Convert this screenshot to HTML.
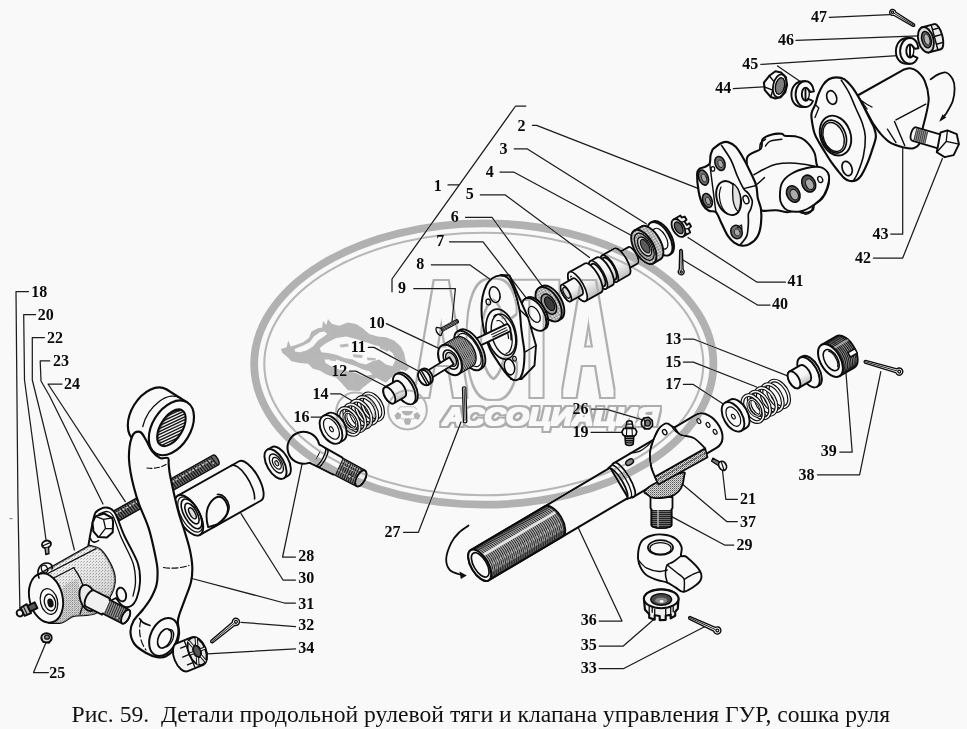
<!DOCTYPE html>
<html lang="ru"><head><meta charset="utf-8"><title>Рис. 59</title>
<style>
html,body{margin:0;padding:0;background:#f9f9f9;}
body{width:967px;height:729px;overflow:hidden;position:relative;font-family:"Liberation Serif",serif;}
svg{position:absolute;left:0;top:0;display:block}
.cap{position:absolute;left:71.6px;top:700.7px;font-size:23.62px;line-height:26px;white-space:pre;color:#111;margin:0;letter-spacing:0px}
.lb{font:bold 16px "Liberation Serif",serif;fill:#0a0a0a}
.ld{fill:none;stroke:#1c1c1c;stroke-width:1.25;stroke-linejoin:round;stroke-linecap:round}
.o{fill:#f9f9f9;stroke:#0c0c0c;stroke-width:1.9;stroke-linejoin:round;stroke-linecap:round}
.l{fill:none;stroke:#0c0c0c;stroke-width:1.62;stroke-linejoin:round;stroke-linecap:round}
.t{fill:none;stroke:#0c0c0c;stroke-width:0.8;stroke-linecap:round}
.k{fill:#111;stroke:none}
</style></head><body>
<svg width="967" height="729" viewBox="0 0 967 729">
<defs>
<linearGradient id="gcyl" x1="0" y1="0" x2="0" y2="1"><stop offset="0" stop-color="#fff"/><stop offset="0.6" stop-color="#e8e8e8"/><stop offset="1" stop-color="#9a9a9a"/></linearGradient>
<pattern id="dots" width="2" height="2" patternUnits="userSpaceOnUse"><rect width="2" height="2" fill="#f4f4f4"/><rect width="1" height="1" fill="#666"/><rect x="1" y="1" width="1" height="1" fill="#888"/></pattern>
<pattern id="dotsL" width="3" height="3" patternUnits="userSpaceOnUse"><rect width="3" height="3" fill="#f6f6f6"/><rect width="1" height="1" fill="#777"/><rect x="2" y="1" width="1" height="1" fill="#aaa"/></pattern>
<linearGradient id="hs" x1="0" y1="0" x2="0.6" y2="1"><stop offset="0" stop-color="#f9f9f9"/><stop offset="0.35" stop-color="#e6e6e6"/><stop offset="1" stop-color="#9c9c9c"/></linearGradient>
<linearGradient id="gcylA" gradientUnits="objectBoundingBox" x1="0" y1="0" x2="0" y2="1"><stop offset="0" stop-color="#f9f9f9"/><stop offset="0.55" stop-color="#f4f4f4"/><stop offset="1" stop-color="#bdbdbd"/></linearGradient>
<pattern id="dots2" width="2" height="2" patternUnits="userSpaceOnUse"><rect width="2" height="2" fill="#d8d8d8"/><rect width="1" height="1" fill="#555"/><rect x="1" y="1" width="1" height="1" fill="#999"/></pattern>
</defs>
<rect width="967" height="729" fill="#f9f9f9"/>
<g class="ld">
<polyline points="28.5,291.5 16.0,291.5 17.9,500.0 19.9,609.0"/>
<polyline points="35.6,314.7 23.7,314.7 24.5,380.0 46.0,540.0"/>
<polyline points="44.4,337.5 32.3,337.5 32.3,380.0 74.4,550.0"/>
<polyline points="49.7,360.9 40.2,360.9 41.0,381.0 49.6,396.0 103.0,504.0"/>
<polyline points="62.0,384.0 48.0,384.0 125.3,501.6"/>
<polyline points="48.4,672.5 33.5,672.5 45.9,642.7"/>
<polyline points="295.5,557.0 282.6,557.0 302.0,464.4"/>
<polyline points="295.5,580.0 283.0,580.0 241.0,513.6"/>
<polyline points="295.5,603.0 284.4,603.0 190.0,578.0"/>
<polyline points="295.5,626.6 241.0,622.3"/>
<polyline points="295.5,648.9 207.4,653.8"/>
<polyline points="403.5,532.3 418.4,532.3 461.0,422.0"/>
<polyline points="525.8,106.0 515.6,106.0 392.0,279.0 392.0,291.8"/>
<polyline points="448.0,184.9 458.8,184.9"/>
<polyline points="532.5,125.4 536.6,125.4 698.0,188.4"/>
<polyline points="514.2,148.8 527.0,148.8 646.5,224.0"/>
<polyline points="500.0,172.0 513.6,172.0 631.5,235.5"/>
<polyline points="480.3,194.8 505.0,194.8 589.5,257.5"/>
<polyline points="465.5,217.3 492.0,217.3 543.3,287.7"/>
<polyline points="449.5,241.8 483.0,241.8 526.0,297.6"/>
<polyline points="431.3,264.8 469.7,264.8 491.0,280.0"/>
<polyline points="413.7,288.6 455.4,288.6 452.0,321.6"/>
<polyline points="386.4,323.6 439.8,348.9"/>
<polyline points="368.3,347.4 374.0,347.4 418.7,371.2"/>
<polyline points="349.3,371.1 355.9,371.1 389.0,388.0"/>
<polyline points="330.6,393.8 340.2,393.8 354.2,402.0"/>
<polyline points="311.2,417.2 322.8,417.2"/>
<polyline points="683.4,339.0 693.3,339.0 787.6,375.8"/>
<polyline points="683.4,362.1 693.3,362.1 756.6,387.0"/>
<polyline points="683.4,384.4 693.3,384.4 725.6,405.5"/>
<polyline points="591.0,409.2 605.9,409.2 644.4,420.3"/>
<polyline points="591.0,432.3 622.0,432.3"/>
<polyline points="737.4,499.3 725.8,499.3 722.5,470.7"/>
<polyline points="737.4,521.6 726.7,521.6 682.8,484.4"/>
<polyline points="733.7,545.2 725.0,545.2 671.7,516.6"/>
<polyline points="599.2,621.0 622.0,621.0 578.6,528.5"/>
<polyline points="599.2,646.0 623.3,646.0 654.3,619.0"/>
<polyline points="599.2,668.7 623.3,668.7 705.0,626.5"/>
<polyline points="839.8,452.0 852.2,452.0 846.0,373.3"/>
<polyline points="817.4,474.8 859.6,474.8 880.8,371.7"/>
<polyline points="770.0,305.0 757.5,305.0 683.0,260.0"/>
<polyline points="785.5,282.0 756.7,282.0 688.0,237.5"/>
<polyline points="873.4,258.0 902.7,258.0 942.4,158.5"/>
<polyline points="890.8,234.2 902.7,234.2 902.7,147.4"/>
<polyline points="733.3,88.6 763.4,86.8"/>
<polyline points="760.9,64.4 897.5,55.7"/>
<polyline points="777.5,65.9 801.0,82.0"/>
<polyline points="796.0,40.4 919.0,35.8"/>
<polyline points="829.3,17.4 889.9,14.6"/>
</g>
<g id="left">
<rect x="9.5" y="518" width="3" height="1.2" fill="#8a8a8a"/>
<g transform="translate(112,518.3) rotate(-29.35)">
<path d="M0,-5.6 L118.7,-5.6 A2.6,5.6 0 0 1 118.7,5.6 L0,5.6 Z" fill="#6a6a6a" stroke="#0c0c0c" stroke-width="1.4"/>
<path d="M2,-5 L3.5,5M4.6,-5 L6.1,5M7.2,-5 L8.7,5M9.8,-5 L11.3,5M12.4,-5 L13.9,5M15,-5 L16.5,5M17.6,-5 L19.1,5M20.2,-5 L21.7,5M22.8,-5 L24.3,5M25.4,-5 L26.9,5M28,-5 L29.5,5M30.6,-5 L32.1,5M33.2,-5 L34.7,5M35.8,-5 L37.3,5M38.4,-5 L39.9,5M41,-5 L42.5,5M43.6,-5 L45.1,5M46.2,-5 L47.7,5M48.8,-5 L50.3,5M51.4,-5 L52.9,5M54,-5 L55.5,5M56.6,-5 L58.1,5M59.2,-5 L60.7,5M61.8,-5 L63.3,5M64.4,-5 L65.9,5M67,-5 L68.5,5M69.6,-5 L71.1,5M72.2,-5 L73.7,5M74.8,-5 L76.3,5M77.4,-5 L78.9,5M80,-5 L81.5,5M82.6,-5 L84.1,5M85.2,-5 L86.7,5M87.8,-5 L89.3,5M90.4,-5 L91.9,5M93,-5 L94.5,5M95.6,-5 L97.1,5M98.2,-5 L99.7,5M100.8,-5 L102.3,5M103.4,-5 L104.9,5M106,-5 L107.5,5M108.6,-5 L110.1,5M111.2,-5 L112.7,5M113.8,-5 L115.3,5M116.4,-5 L117.9,5" stroke="#111" stroke-width="1.1" fill="none"/>
<path d="M2,-2.2 L115.7,-2.2" stroke="#c8c8c8" stroke-width="1.6" stroke-dasharray="2.2 1.6" fill="none"/>
<circle cx="115.2" cy="1.5" r="1.2" fill="#f4f4f4" stroke="#111" stroke-width="0.6"/>
</g>
<g transform="translate(188.9,515.3) rotate(-29.35)">
<path class="o" d="M0,-22.5 L70.2,-22.5 A9,22.5 0 0 1 70.2,22.5 L0,22.5 Z"/>
<path class="l" d="M61.2,-22.5 A8,21.5 0 0 1 65.2,18"/>
<ellipse cx="0" cy="0" rx="10.5" ry="22.5" class="o"/>
<ellipse cx="1.5" cy="0" rx="9" ry="19.5" class="l" style="stroke-width:1.20"/>
<ellipse cx="3" cy="0" rx="7.4" ry="16.5" class="l"/>
<ellipse cx="3.5" cy="0" rx="5" ry="11.5" class="l"/>
<ellipse cx="4" cy="0" rx="2.6" ry="6.2" fill="#ddd" stroke="#0c0c0c" stroke-width="1.4"/>
<g transform="translate(-10,5.8)"><path class="o" d="M21,14 C24,2 30,-6 40,-8 C48,-9 50,-2 48,6 C46,12 40,15 30,16 Z"/>
<path class="l" d="M24,16.5 C34,17.5 45,14 49.5,6 C52,-1 50,-8 45,-10"/></g>
</g>
<path d="M92.6,522.6C93.2,520.8 93.8,514.5 96,512C98.2,509.5 102.9,507.4 106,507.5C109.1,507.6 111.7,507.9 114.7,512.5C117.7,517.1 120.2,526.6 124,535C127.8,543.4 135,555.2 137.7,563C140.4,570.8 140.2,576.2 140,582C139.8,587.8 138.3,594 136.8,598C135.3,602 133.3,604.7 131,606C128.7,607.3 125.5,607.3 123,606C120.5,604.7 117.2,599.3 116,598 L108,602 L100,598 L86,560 L90,536 Z" class="o" />
<path d="M99,514C100.3,513.6 104.7,511.2 107,511.5C109.3,511.8 110.7,511.8 113,516C115.3,520.2 117.7,529.2 121,537C124.3,544.8 130.6,555.5 133,563C135.4,570.5 135.5,576.5 135.5,582C135.5,587.5 133.4,593.7 133,596" class="l" style="stroke-width:1.32"/>
<ellipse cx="121.4" cy="594.5" rx="4.6" ry="7" class="o" transform="rotate(-15 121.4 594.5)" />
<path d="M95.4,516.4 L104,513.5 L112.2,517.9 L113.1,521.7 L112.7,532.3 L106.9,537.6 L98.3,537.1 L93.4,531.3 L92.5,522.7Z" class="o" style="stroke-width:2.04;stroke-linejoin:round"/>
<path d="M95.4,516.4 L103.5,519.3 L105.5,528.4 L99.2,536.6M103.5,519.3 L112.2,517.9M105.5,528.4 L112.7,528.6" class="l" style="stroke-width:1.32"/>
<path d="M90.5,538.5 C91,542 95,543.5 98.5,540.5" class="l" />
<path d="M38.8,574.5 L89.7,545.7L89.7,545.7C91.5,546.3 96.9,546.6 100.3,549.5C103.7,552.4 107.5,558.5 109.9,563C112.3,567.5 114.1,572.2 114.7,576.4C115.3,580.6 114.8,584.1 113.7,588C112.6,591.9 110.3,596.3 108,600C105.7,603.7 102.2,607.8 100,610C97.8,612.2 96.7,612.7 94.5,613.5C92.3,614.3 90.3,614.6 86.8,615C83.3,615.4 77.6,614.8 73.4,616C69.2,617.2 66.1,621.4 61.9,622.5C57.7,623.6 50.6,622.8 48.4,622.8Z" class="o" style="fill:url(#hs);stroke-width:2.04"/>
<path d="M38.8,574.5 L89.7,545.7L89.7,545.7C91.5,546.3 96.9,546.6 100.3,549.5C103.7,552.4 107.5,558.5 109.9,563C112.3,567.5 114.1,572.2 114.7,576.4C115.3,580.6 114.8,584.1 113.7,588C112.6,591.9 110.3,596.3 108,600C105.7,603.7 102.2,607.8 100,610C97.8,612.2 96.7,612.7 94.5,613.5C92.3,614.3 90.3,614.6 86.8,615C83.3,615.4 77.6,614.8 73.4,616C69.2,617.2 66.1,621.4 61.9,622.5C57.7,623.6 50.6,622.8 48.4,622.8Z" class="l" style="fill:url(#dotsL);stroke:none;opacity:0.55"/>
<path d="M63,588C65.2,583.7 73.2,579.7 76,580C78.8,580.3 79,586.2 80,590C81,593.8 79.3,599.8 82,603C84.7,606.2 92,610.5 96,609C100,607.5 103.7,595.5 106,594C108.3,592.5 111,597.3 110,600C109,602.7 102.6,607.8 100,610C97.4,612.2 96.7,612.7 94.5,613.5C92.3,614.3 90.3,614.6 86.8,615C83.3,615.4 77.6,614.8 73.4,616C69.2,617.2 64.8,621.8 61.9,622.5C59,623.2 55.8,622.8 56,620C56.2,617.2 61.8,611.3 63,606C64.2,600.7 60.8,592.3 63,588Z" class="l" style="fill:url(#dots2);stroke:none;opacity:0.5"/>
<path d="M40,577.5 L96,548.6" class="l" style="stroke-width:1.20"/>
<path d="M46,582 L74,567.5" class="l" style="stroke-width:1.20"/>
<ellipse cx="46" cy="598" rx="16.5" ry="25" class="o" transform="rotate(-14 46 598)" />
<ellipse cx="49" cy="601.5" rx="8.5" ry="13" class="l" transform="rotate(-14 49 601.5)" style="stroke-width:1.32"/>
<ellipse cx="50" cy="602.5" rx="5.5" ry="8.5" class="l" transform="rotate(-14 50 602.5)" style="stroke-width:1.32"/>
<ellipse cx="50.5" cy="603" rx="3" ry="4.6" class="k" transform="rotate(-14 50.5 603)" />
<path d="M39,578 C36,570 40,563 47,563 C52,563 53,567 52,569" class="l" />
<ellipse cx="44.5" cy="569" rx="3" ry="4" class="l" transform="rotate(-20 44.5 569)" style="stroke-width:1.20"/>
<path d="M74,568C75,569.7 78.3,574.3 80,578C81.7,581.7 83.5,585.7 84,590C84.5,594.3 83.7,600 83,604C82.3,608 80.5,612.3 80,614" class="l" style="stroke-width:1.32"/>
<ellipse cx="88" cy="598" rx="8" ry="13.5" class="o" transform="rotate(-18 88 598)" style="fill:#e9e9e9"/>
<g transform="translate(90,598.5) rotate(27)">
<path class="o" style="fill:#f0f0f0" d="M0,-9 L18,-9 L18,-7.6 L40,-7.6 A3.4,7.6 0 0 1 40,7.6 L18,7.6 L18,9 L0,9 A4,9 0 0 1 0,-9Z"/>
<path d="M19,-7 L39,-7 L39,7 L19,7Z" fill="#777" opacity="0.75"/>
<path d="M19,-7 L20,7M21.2,-7 L22.2,7M23.4,-7 L24.4,7M25.6,-7 L26.6,7M27.8,-7 L28.8,7M30,-7 L31,7M32.2,-7 L33.2,7M34.4,-7 L35.4,7M36.6,-7 L37.6,7M38.8,-7 L39.8,7" stroke="#222" stroke-width="0.9" fill="none"/>
<ellipse cx="40" cy="0" rx="3.4" ry="7.6" class="o" style="fill:#ededed"/>
<circle cx="33" cy="5" r="1.3" fill="#eee" stroke="#111" stroke-width="0.7"/>
</g>
<g transform="translate(19,613.5) rotate(-26)">
<ellipse cx="1" cy="0" rx="3.2" ry="3.4" class="o"/>
<path class="o" style="fill:#bbb" d="M4,-4.5 L11,-5 L11,5 L4,4.5Z"/>
<path class="o" style="fill:#555" d="M11,-3.2 L19,-3.2 L19,3.2 L11,3.2Z"/>
<path class="l" d="M7,-4.6 L7,4.6" style="stroke-width:1.08"/>
</g>
<ellipse cx="46.5" cy="544.3" rx="4.6" ry="3.6" class="o" transform="rotate(-20 46.5 544.3)" />
<path d="M43,545.8 L50,542.6" class="l" style="stroke-width:1.20"/>
<path d="M45,548 L45.8,554.5 L49,553.5 L48.6,547.5" class="o" style="fill:#999;stroke-width:1.32"/>
<ellipse cx="46.5" cy="637.8" rx="5.2" ry="4.6" class="o" style="fill:#ddd"/>
<ellipse cx="47" cy="637.2" rx="2.4" ry="2" class="o" style="fill:#888;stroke-width:1.20"/>
<path d="M41.5,638 L43,642 L49,643 L51.6,639.5" class="l" style="stroke-width:1.32"/>
<g transform="rotate(31.8 171.4 427.8)">
<ellipse cx="146.7" cy="427.8" rx="19" ry="30" class="o" style="stroke-width:2.16"/>
<rect x="146.7" y="397.8" width="24.7" height="60" fill="#f9f9f9"/>
<path class="l" style="stroke-width:2.16" d="M146.7,397.8 L171.4,397.8"/>
</g>
<path d="M168,458C169.4,459.1 168.3,461.2 168.7,464.4C169.1,467.6 168.8,469.3 170.4,477C172,484.7 175.8,501.9 178,510.4C180.2,518.9 181.6,521.5 183.6,528C185.6,534.5 188.4,543.1 189.8,549.6C191.2,556.1 192.1,561.6 192.3,567C192.5,572.4 192.2,576.5 191,581.9C189.8,587.3 186.8,593.9 184.9,599.3C183,604.6 180.7,610.2 179.5,614C178.3,617.8 177.9,618.7 177.8,622C177.7,625.3 179.5,629.7 179,634C178.5,638.3 177.2,644.3 175,648C172.8,651.7 168.9,654.8 166,656.3C163.1,657.8 160.7,657.8 157.3,657.2C153.9,656.6 149.5,654.9 145.7,652.7C141.9,650.5 137,647.4 134.5,644C132,640.6 130.7,636.3 130.5,632.5C130.3,628.7 131.4,624.8 133.5,621C135.6,617.2 140.1,613.3 143,609.5C145.9,605.7 148.8,602.1 151,598C153.2,593.9 155.4,589.7 156.5,585C157.6,580.3 157.7,574.9 157.5,570C157.3,565.1 156.7,562.6 155.3,555.7C153.9,548.9 151.6,537.5 148.9,528.9C146.2,520.3 141.5,510.9 139,504C136.5,497.1 135.4,493 134,487.7C132.6,482.4 131.3,476.7 130.5,472C129.7,467.3 129.2,463.6 129,459.4C128.8,455.2 129.1,450.6 129.5,447C129.9,443.4 130.8,440.1 131.7,437.7C132.6,435.3 133.4,433.4 135,432.5C136.6,431.6 139.2,431.2 141,432.5C142.8,433.8 144.2,436.9 146,440C147.8,443.1 149.7,448 152,451C154.3,454 157.3,456.8 160,458C162.7,459.2 166.6,456.9 168,458Z" class="o" style="stroke-width:2.16"/>
<g transform="rotate(31.8 171.4 427.8)">
<path class="l" style="stroke-width:1.32" d="M163.4,397.8 A19,30 0 0 0 146.4,441.8"/>
<ellipse cx="171.4" cy="427.8" rx="19" ry="30" class="o" style="stroke-width:2.16"/>
<clipPath id="ringhole"><ellipse cx="171.4" cy="427.8" rx="11" ry="20.5"/></clipPath>
<ellipse cx="171.4" cy="427.8" rx="11" ry="20.5" fill="#f1f1f1" stroke="none"/>
<g clip-path="url(#ringhole)"><path d="M136.5,433.6 L162.8,393.5M138.8,435.1 L165,395M141,436.6 L167.3,396.4M143.3,438.1 L169.6,397.9M145.5,439.6 L171.8,399.4M147.8,441 L174.1,400.9M150.1,442.5 L176.3,402.4M152.3,444 L178.6,403.8M154.6,445.5 L180.9,405.3M156.8,447 L183.1,406.8M159.1,448.4 L185.4,408.3M161.4,449.9 L187.6,409.7M163.6,451.4 L189.9,411.2M165.9,452.9 L192.2,412.7M168.1,454.3 L194.4,414.2M170.4,455.8 L196.7,415.7M172.7,457.3 L198.9,417.1M174.9,458.8 L201.2,418.6M177.2,460.3 L203.5,420.1M179.4,461.7 L205.7,421.6" stroke="#111" stroke-width="1.35" fill="none"/><path d="M171.4,407.3 A11,20.5 0 0 0 171.4,448.3 L169.4,444.8 A7,17 0 0 1 169.4,410.8 Z" fill="#222" opacity="0.55"/></g>
<ellipse cx="171.4" cy="427.8" rx="11" ry="20.5" class="l" style="stroke-width:2.04"/>
</g>
<path d="M147,468 C153,469 160,468 166,464.5" class="l" style="stroke-width:1.20;stroke-dasharray:5 2.5"/>
<path d="M163.5,567.5 C172,569 181,568 189,565.5" class="l" style="stroke-width:1.20;stroke-dasharray:6 2.5"/>
<path d="M139.5,618.5C140.1,619.2 141.2,621.3 143,622.5C144.8,623.7 148.8,625 150,625.5" class="l" />
<ellipse cx="163.8" cy="637" rx="13.2" ry="20" class="o" transform="rotate(25 163.8 637)" style="stroke-width:2.04"/>
<ellipse cx="164.6" cy="638.4" rx="6.2" ry="10.2" class="o" transform="rotate(25 164.6 638.4)" style="stroke-width:1.68"/>
<path d="M168.5,630 A5,9 25 0 1 166.5,647" class="l" style="stroke-width:1.20"/>
<path d="M141,620 C138,630 140,642 146,650" class="l" style="stroke-width:1.20;stroke-dasharray:7 3"/>
<g transform="translate(191.5,653.5) rotate(-22)">
<path class="o" style="fill:#f3f3f3;stroke-width:1.92" d="M-10,-15 L6,-15 A9,15 0 0 1 6,15 L-10,15 A8,15 0 0 1 -10,-15Z"/>
<ellipse cx="6" cy="0" rx="8.5" ry="14.5" class="o" style="fill:#e6e6e6"/>
<ellipse cx="6" cy="0" rx="3.6" ry="6.2" class="o" style="fill:#555"/>
<path d="M8,-5.9 L10.2,-12.6" stroke="#0c0c0c" stroke-width="3.2" fill="none"/>
<path d="M8,-5.9 L10.2,-12.6" stroke="#f2f2f2" stroke-width="1.3" fill="none"/>
<path d="M10,0 L14.5,0" stroke="#0c0c0c" stroke-width="3.2" fill="none"/>
<path d="M10,0 L14.5,0" stroke="#f2f2f2" stroke-width="1.3" fill="none"/>
<path d="M8,5.9 L10.2,12.6" stroke="#0c0c0c" stroke-width="3.2" fill="none"/>
<path d="M8,5.9 L10.2,12.6" stroke="#f2f2f2" stroke-width="1.3" fill="none"/>
<path d="M4,5.9 L1.8,12.6" stroke="#0c0c0c" stroke-width="3.2" fill="none"/>
<path d="M4,5.9 L1.8,12.6" stroke="#f2f2f2" stroke-width="1.3" fill="none"/>
<path d="M2,0 L-2.5,0" stroke="#0c0c0c" stroke-width="3.2" fill="none"/>
<path d="M2,0 L-2.5,0" stroke="#f2f2f2" stroke-width="1.3" fill="none"/>
<path d="M4,-5.9 L1.7,-12.6" stroke="#0c0c0c" stroke-width="3.2" fill="none"/>
<path d="M4,-5.9 L1.7,-12.6" stroke="#f2f2f2" stroke-width="1.3" fill="none"/>
<path class="l" style="stroke-width:1.32" d="M-8,-9 L-2,-9 M-9.5,0 L-2.5,0 M-8,9 L-2,9 M-2,-14 L-2,14"/>
</g>
<g transform="translate(236,621.8) rotate(140.6)">
<path class="o" style="stroke-width:1.38" d="M31.3,-1.4 L3.1,-2 A3.6,3.6 0 1 0 3.1,2 L31.3,1.4 Q33.5,0 31.3,-1.4 Z"/>
<circle r="1.4" class="o" style="stroke-width:1.20"/>
<path class="l" style="stroke-width:0.84" d="M2.2,0 L31.3,0"/>
</g>
</g>
<g id="center">
<g transform="translate(681,226.5) rotate(-30)">
<path class="o" style="fill:#f1f1f1;stroke-width:1.80" d="M-3,-9.8 L5,-9.8 L5,-7.4 L8.2,-6.8 L8.2,-3 L5.6,-2.6 L5.8,1.6 L8.8,1.4 L8.8,5 L5.4,5.6 L5,9.8 L-3,9.8Z"/>
<path class="l" style="stroke-width:1.20" d="M1,-9.6 L1,9.6 M1,-4 L5.6,-2.6 M1,3.6 L5.4,5.6"/>
<ellipse cx="-3" rx="5.6" ry="9.8" class="o" style="fill:#e4e4e4;stroke-width:1.80"/>
<ellipse cx="-2.6" rx="3.5" ry="6.4" class="o" style="fill:#5e5e5e;stroke-width:1.32"/>
</g>
<g transform="translate(681.2,272) rotate(-90.5)">
<path class="o" style="stroke-width:1.38" d="M21.5,-1.3 L2.5,-1.9 A3,3 0 1 0 2.5,1.9 L21.5,1.3 Q23.7,0 21.5,-1.3 Z"/>
<circle r="1.1" class="o" style="stroke-width:1.20"/>
<path class="l" style="stroke-width:0.84" d="M1.8,0 L21.5,0"/>
</g>
<g transform="translate(660,238.8) rotate(-30)">
<path class="o" style="fill:#f9f9f9;stroke-width:1.92" d="M0,-18.6 L1.8,-18.6 A9.6,18.6 0 0 1 1.8,18.6 L0,18.6 Z"/>
<ellipse cx="0" cy="0" rx="9.6" ry="18.6" class="o" style="fill:#f9f9f9;stroke-width:1.92"/>
<ellipse cx="0.3" cy="0" rx="5.8" ry="11.5" fill="#f9f9f9" stroke="#0c0c0c" stroke-width="1.2"/>
</g>
<g transform="translate(643.8,247) rotate(-30)">
<path class="o" style="fill:url(#dots);stroke-width:1.92" d="M0,-19 L8,-19 A9.6,19 0 0 1 8,19 L0,19 Z"/>
<ellipse cx="0" cy="0" rx="9.6" ry="19" class="o" style="fill:url(#dots);stroke-width:1.92"/>
<ellipse cx="0.5" cy="0" rx="7.6" ry="15" fill="url(#dots2)" stroke="#0c0c0c" stroke-width="1.2"/>
<ellipse cx="1" cy="0" rx="5.5" ry="10.5" fill="#dcdcdc" stroke="#0c0c0c" stroke-width="1.3"/>
<ellipse cx="1.6" cy="0" rx="3.6" ry="7.6" fill="#5a5a5a" stroke="#0c0c0c" stroke-width="1.1"/>
</g>
<g transform="translate(566,293.1) rotate(-29.4)">
<path class="o" style="fill:url(#gcylA);stroke-width:1.80" d="M64,-9.4 L77,-9.4 A3.4,9.4 0 0 1 77,9.4 L64,9.4 A3.4,9.4 0 0 1 64,-9.4 Z"/>
<ellipse cx="64" cy="0" rx="3.4" ry="9.4" class="o" style="stroke-width:1.68"/>
<path class="o" style="fill:url(#gcylA);stroke-width:1.80" d="M50,-15.1 L64,-15.1 A5.4,15.1 0 0 1 64,15.1 L50,15.1 A5.4,15.1 0 0 1 50,-15.1 Z"/>
<ellipse cx="50" cy="0" rx="5.4" ry="15.1" class="o" style="stroke-width:1.68"/>
<path class="o" style="fill:url(#gcylA);stroke-width:1.80" d="M44.5,-12.4 L50,-12.4 A4.5,12.4 0 0 1 50,12.4 L44.5,12.4 A4.5,12.4 0 0 1 44.5,-12.4 Z"/>
<ellipse cx="44.5" cy="0" rx="4.5" ry="12.4" class="o" style="stroke-width:1.68"/>
<path class="o" style="fill:url(#gcylA);stroke-width:1.80" d="M37,-15.9 L44.5,-15.9 A5.7,15.9 0 0 1 44.5,15.9 L37,15.9 A5.7,15.9 0 0 1 37,-15.9 Z"/>
<ellipse cx="37" cy="0" rx="5.7" ry="15.9" class="o" style="stroke-width:1.68"/>
<path class="o" style="fill:url(#gcylA);stroke-width:1.80" d="M31,-12.6 L37,-12.6 A4.5,12.6 0 0 1 37,12.6 L31,12.6 A4.5,12.6 0 0 1 31,-12.6 Z"/>
<ellipse cx="31" cy="0" rx="4.5" ry="12.6" class="o" style="stroke-width:1.68"/>
<path class="o" style="fill:url(#gcylA);stroke-width:1.80" d="M13.3,-16.6 L31,-16.6 A6,16.6 0 0 1 31,16.6 L13.3,16.6 A6,16.6 0 0 1 13.3,-16.6 Z"/>
<ellipse cx="13.3" cy="0" rx="6" ry="16.6" class="o" style="stroke-width:1.68"/>
<path class="o" style="fill:url(#gcylA);stroke-width:1.80" d="M0,-9.4 L13.3,-9.4 A3.4,9.4 0 0 1 13.3,9.4 L0,9.4 A3.4,9.4 0 0 1 0,-9.4 Z"/>
<ellipse cx="0" cy="0" rx="3.4" ry="9.4" class="o" style="stroke-width:1.68"/>
<ellipse cx="0.6" cy="0" rx="2.4" ry="6" class="o" style="stroke-width:1.32;fill:#ddd"/>
<circle cx="12.5" cy="-12" r="0.9" class="k"/><circle cx="37.5" cy="-12.5" r="0.9" class="k"/>
</g>
<g transform="translate(548.6,304.3) rotate(-30)">
<path class="o" style="fill:url(#dots);stroke-width:1.92" d="M0,-19 L3,-19 A10.5,19 0 0 1 3,19 L0,19 Z"/>
<ellipse cx="0" cy="0" rx="10.5" ry="19" class="o" style="fill:url(#dots);stroke-width:1.92"/>
<ellipse cx="0.3" cy="0" rx="6.4" ry="11" fill="#9a9a9a" stroke="#0c0c0c" stroke-width="1.4"/>
<ellipse cx="1.2" cy="0" rx="4" ry="7.5" fill="#3a3a3a" stroke="#0c0c0c" stroke-width="1.2"/>
</g>
<g transform="translate(534,314.5) rotate(-30)">
<path class="o" style="fill:#f9f9f9;stroke-width:1.92" d="M0,-18 L2.2,-18 A9.8,18 0 0 1 2.2,18 L0,18 Z"/>
<ellipse cx="0" cy="0" rx="9.8" ry="18" class="o" style="fill:#f9f9f9;stroke-width:1.92"/>
<ellipse cx="0.3" cy="0" rx="4.8" ry="8.8" fill="#f9f9f9" stroke="#0c0c0c" stroke-width="1.3"/>
</g>
<path d="M501,275 L509.5,275.5 L528,317.5 L536,345.5 L534.5,365.5 L521.5,379 L511,379Z" class="o" />
<path d="M519.4,309.4 L528,317.5M524.4,352.3 L536,345.5" class="l" style="stroke-width:1.44"/>
<path d="M499.7,275.5C497.1,275.6 494.2,276.9 492,278.5C489.8,280.1 488.1,281.9 486.5,285C484.9,288.1 483.3,292.9 482.5,297C481.7,301.1 481.5,305.2 481.5,309.4C481.5,313.6 481.9,317.9 482.5,322C483.1,326.1 483.6,329.6 484.8,334.1C486.1,338.6 487.8,344.3 490,349C492.2,353.7 495.5,358.3 498,362.1C500.5,365.9 502.8,369.2 505,372C507.2,374.8 509.4,377.2 511.2,378.6C513,380 514.5,380.5 516,380.3C517.5,380.1 519.2,379.6 520.5,377.5C521.8,375.4 522.9,372.2 523.5,368C524.1,363.8 524.6,357.3 524.4,352.3C524.2,347.3 523.1,342.4 522.5,338C521.9,333.6 521.5,330.7 521,325.9C520.5,321.1 520.5,315.2 519.4,309.4C518.3,303.6 516.4,296.2 514.5,291C512.6,285.8 510.4,280.7 507.9,278.1C505.4,275.5 502.3,275.4 499.7,275.5Z" class="o" style="stroke-width:2.04"/>
<g transform="translate(501.3,334.1) rotate(-14)">
<ellipse rx="14.5" ry="25.5" class="o" style="stroke-width:1.68"/>
<ellipse cx="2" cy="1" rx="11.5" ry="21" class="l" style="stroke-width:1.44"/>
<path class="l" style="stroke-width:1.20" d="M-3,-19 A9,19 0 0 1 8,8 M-1,-14 A7,15 0 0 1 6,6 M0,20 A10,20 0 0 0 10,-2"/>
</g>
<ellipse cx="494.7" cy="294.6" rx="5.2" ry="8" class="o" transform="rotate(-14 494.7 294.6)" style="stroke-width:1.56"/>
<ellipse cx="488.3" cy="302" rx="2.2" ry="3" class="o" transform="rotate(-14 488.3 302)" style="stroke-width:1.32"/>
<ellipse cx="509.5" cy="367" rx="5" ry="8" class="o" transform="rotate(-14 509.5 367)" style="stroke-width:1.56"/>
<ellipse cx="514.5" cy="358.8" rx="1.8" ry="2.4" class="o" transform="rotate(-14 514.5 358.8)" style="stroke-width:1.20"/>
<g transform="translate(470,346) rotate(-25.5)">
<path class="o" d="M0,-4 L42,-4 A2,4 0 0 1 42,4 L0,4Z"/>
<path d="M24,-1 L41,-1 M24,1.6 L41,1.6" stroke="#222" stroke-width="1.2" fill="none"/>
</g>
<g transform="translate(468.5,350.5) rotate(-30)">
<path class="o" style="fill:#f9f9f9;stroke-width:1.92" d="M0,-22 L3,-22 A10.5,22 0 0 1 3,22 L0,22 Z"/>
<ellipse cx="0" cy="0" rx="10.5" ry="22" class="o" style="fill:#f9f9f9;stroke-width:1.92"/>
<ellipse cx="1" cy="0" rx="8.5" ry="18.5" fill="#f9f9f9" stroke="#0c0c0c" stroke-width="1.1"/>
</g>
<g transform="translate(450,360) rotate(-30)">
<path class="o" style="fill:#8a8a8a" d="M0,-16.5 L16,-16.5 A10,16.5 0 0 1 16,16.5 L0,16.5 Z"/>
<clipPath id="kn"><path d="M0,-16.5 L16,-16.5 A10,16.5 0 0 1 16,16.5 L0,16.5 Z"/></clipPath>
<g clip-path="url(#kn)"><path d="M1,-16.5 L4,16.5M2.9,-16.5 L5.9,16.5M4.8,-16.5 L7.8,16.5M6.7,-16.5 L9.7,16.5M8.6,-16.5 L11.6,16.5M10.5,-16.5 L13.5,16.5M12.4,-16.5 L15.4,16.5M14.3,-16.5 L17.3,16.5M16.2,-16.5 L19.2,16.5M18.1,-16.5 L21.1,16.5M20,-16.5 L23,16.5M21.9,-16.5 L24.9,16.5M23.8,-16.5 L26.8,16.5" stroke="#1a1a1a" stroke-width="0.9" fill="none"/><path d="M0,-16.5 L-3,16.5M1.9,-16.5 L-1.1,16.5M3.8,-16.5 L0.8,16.5M5.7,-16.5 L2.7,16.5M7.6,-16.5 L4.6,16.5M9.5,-16.5 L6.5,16.5M11.4,-16.5 L8.4,16.5M13.3,-16.5 L10.3,16.5M15.2,-16.5 L12.2,16.5M17.1,-16.5 L14.1,16.5M19,-16.5 L16,16.5M20.9,-16.5 L17.9,16.5M22.8,-16.5 L19.8,16.5M24.7,-16.5 L21.7,16.5M26.6,-16.5 L23.6,16.5M28.5,-16.5 L25.5,16.5" stroke="#ddd" stroke-width="0.5" fill="none"/></g>
<ellipse rx="10" ry="16.5" class="o" style="stroke-width:2.04"/>
<ellipse cx="0.8" rx="6.3" ry="10.5" class="o" style="stroke-width:1.56"/>
<ellipse cx="1.2" rx="4.6" ry="7.6" class="o" style="fill:#ccc;stroke-width:1.32"/>
</g>
<g transform="translate(426,376.5) rotate(-31.5)">
<path class="o" d="M0,-4.1 L30,-4.1 L30,4.1 L0,4.1Z" style="stroke-width:1.80"/>
</g>
<g transform="translate(424.3,377.5) rotate(-30)">
<path class="o" style="fill:#f9f9f9;stroke-width:1.92" d="M0,-8.4 L2.5,-8.4 A5.6,8.4 0 0 1 2.5,8.4 L0,8.4 Z"/>
<ellipse cx="0" cy="0" rx="5.6" ry="8.4" class="o" style="fill:#f9f9f9;stroke-width:1.92"/>
</g>
<g transform="translate(424.3,377.5) rotate(-30)"><path class="l" style="stroke-width:1.44" d="M-1.2,-8 L-1.2,8 M1,-8 L1,8"/></g>
<g transform="translate(439,331.3) rotate(-29)">
<path d="M2,-1.8 L21,-1.8 A1,1.8 0 0 1 21,1.8 L2,1.8Z" fill="#444" stroke="#111" stroke-width="1"/>
<path d="M3,-1.8 l1,3.6 m1.5,-3.6 l1,3.6 m1.5,-3.6 l1,3.6 m1.5,-3.6 l1,3.6 m1.5,-3.6 l1,3.6 m1.5,-3.6 l1,3.6 m1.5,-3.6 l1,3.6" stroke="#bbb" stroke-width="0.6" fill="none"/>
<path class="o" d="M3,-2 L0,-4.5 A2.3,4.5 0 0 0 0,4.5 L3,2Z" style="stroke-width:1.44"/>
</g>
<g transform="translate(464.2,387.8) rotate(88.5)">
<path class="o" d="M0,-1.7 L34,-1.7 A1,1.7 0 0 1 34,1.7 L0,1.7 A1,1.7 0 0 1 0,-1.7Z" style="stroke-width:1.32"/>
<path class="t" d="M1,0 L33,0"/>
</g>
<g transform="translate(404.3,389) rotate(-30)">
<path class="o" style="fill:#f9f9f9;stroke-width:1.92" d="M0,-17 L2.5,-17 A8.8,17 0 0 1 2.5,17 L0,17 Z"/>
<ellipse cx="0" cy="0" rx="8.8" ry="17" class="o" style="fill:#f9f9f9;stroke-width:1.92"/>
</g>
<g transform="translate(389.3,395.3) rotate(-30)">
<path class="o" style="fill:url(#gcylA)" d="M0,-9.2 L12.5,-9.2 A4.6,9.2 0 0 1 12.5,9.2 L0,9.2 A4.6,9.2 0 0 1 0,-9.2Z"/>
<ellipse cx="0" cy="0" rx="4.6" ry="9.2" class="o"/>
</g>
<g transform="translate(372.5,406.8) rotate(-30)"><ellipse rx="9" ry="14.6" fill="none" stroke="#0c0c0c" stroke-width="3.8"/><ellipse rx="9" ry="14.6" fill="none" stroke="#f6f6f6" stroke-width="1.5999999999999996"/></g>
<g transform="translate(366.6,410.4) rotate(-30)"><ellipse rx="9" ry="14.6" fill="none" stroke="#0c0c0c" stroke-width="3.8"/><ellipse rx="9" ry="14.6" fill="none" stroke="#f6f6f6" stroke-width="1.5999999999999996"/></g>
<g transform="translate(360.8,414.1) rotate(-30)"><ellipse rx="9" ry="14.6" fill="none" stroke="#0c0c0c" stroke-width="3.8"/><ellipse rx="9" ry="14.6" fill="none" stroke="#f6f6f6" stroke-width="1.5999999999999996"/></g>
<g transform="translate(354.9,417.8) rotate(-30)"><ellipse rx="9" ry="14.6" fill="none" stroke="#0c0c0c" stroke-width="3.8"/><ellipse rx="9" ry="14.6" fill="none" stroke="#f6f6f6" stroke-width="1.5999999999999996"/></g>
<g transform="translate(349,421.4) rotate(-30)"><ellipse cx="4" rx="5.4" ry="9.1" fill="none" stroke="#0c0c0c" stroke-width="2.6"/><ellipse cx="4" rx="5.4" ry="9.1" fill="none" stroke="#f6f6f6" stroke-width="0.9"/><ellipse cx="1.5" rx="5.4" ry="9.1" fill="none" stroke="#0c0c0c" stroke-width="2.6"/><ellipse cx="1.5" rx="5.4" ry="9.1" fill="none" stroke="#f6f6f6" stroke-width="0.9"/><ellipse rx="9" ry="14.6" fill="none" stroke="#0c0c0c" stroke-width="3.8"/><ellipse rx="9" ry="14.6" fill="none" stroke="#f6f6f6" stroke-width="1.5999999999999996"/></g>
<g transform="translate(331,429.5) rotate(-30)">
<path class="o" style="fill:#f9f9f9;stroke-width:1.92" d="M0,-15.6 L5,-15.6 A9.6,15.6 0 0 1 5,15.6 L0,15.6 Z"/>
<ellipse cx="0" cy="0" rx="9.6" ry="15.6" class="o" style="fill:#f9f9f9;stroke-width:1.92"/>
<ellipse cx="0.5" cy="0" rx="1.6" ry="2.8" fill="#f9f9f9" stroke="#0c0c0c" stroke-width="1.1"/>
</g>
<g transform="translate(331,429) rotate(-30)"><ellipse cx="0.5" rx="6.4" ry="11.5" class="l" style="stroke-width:1.20"/></g>
<g transform="translate(303.5,447.8) rotate(28)">
<path class="o" d="M10,-10.4 L39,-9.6 L39,-9.2 L65,-8.8 A4.2,8.8 0 0 1 65,8.8 L39,9.2 L39,9.6 L10,10.4 Z"/>
<path d="M40,-8.9 L65,-8.5 A4.2,8.6 0 0 1 65,8.5 L40,8.9 Z" fill="#6c6c6c" opacity="0.85"/>
<path d="M40,-8.6 L41.2,8.6M42.3,-8.6 L43.5,8.6M44.6,-8.6 L45.8,8.6M46.9,-8.6 L48.1,8.6M49.2,-8.6 L50.4,8.6M51.5,-8.6 L52.7,8.6M53.8,-8.6 L55,8.6M56.1,-8.6 L57.3,8.6M58.4,-8.6 L59.6,8.6M60.7,-8.6 L61.9,8.6M63,-8.6 L64.2,8.6" stroke="#151515" stroke-width="1" fill="none"/>
<path d="M41,3.4 L63,3.4 M41,-3 L63,-3 M41,-6.5 L63,-6.5" stroke="#e0e0e0" stroke-width="1" stroke-dasharray="1.5 1.6" fill="none"/>
<ellipse cx="65" cy="0" rx="4.2" ry="8.8" class="o" style="fill:#ececec"/>
<circle cx="54" cy="3.6" r="1.8" fill="#ddd" stroke="#111" stroke-width="0.9"/>
<path class="l" style="stroke-width:1.32" d="M19,-10.1 A3,10.1 0 0 1 19,10.1 M21.6,-10 A3,10 0 0 1 21.6,10"/>
<circle cx="0" cy="0" r="16" class="o" style="stroke-width:2.04"/>
<path class="o" style="stroke:none" d="M9,-9.8 L16,-10.2 L16,10.2 L9,9.8Z"/>
<path class="l" d="M12.4,-10.1 L16,-10.25 M12.4,10.1 L16,10.25" />
</g>
<g transform="translate(275.5,464) rotate(-30)">
<path class="o" style="fill:#f9f9f9;stroke-width:1.92" d="M0,-16.5 L5,-16.5 A8.5,16.5 0 0 1 5,16.5 L0,16.5 Z"/>
<ellipse cx="0" cy="0" rx="8.5" ry="16.5" class="o" style="fill:#f9f9f9;stroke-width:1.92"/>
<ellipse cx="1" cy="0" rx="5.5" ry="10.5" fill="#f9f9f9" stroke="#0c0c0c" stroke-width="1.3"/>
<ellipse cx="1.5" cy="0" rx="3.6" ry="6.5" fill="#f9f9f9" stroke="#0c0c0c" stroke-width="1.2"/>
<ellipse cx="1.5" cy="0" rx="1.6" ry="2.8" fill="#ddd" stroke="#0c0c0c" stroke-width="1"/>
</g>
</g>
<g id="topright">
<path d="M747.2,157.4C749.1,152.6 758.1,151.8 760.7,148.8C763.2,145.8 760.7,141.6 762.6,139.2C764.5,136.8 769,135.3 772.2,134.4C775.4,133.5 779.7,133.6 781.8,133.8C783.9,134.1 782.4,135.3 784.7,135.7C786.9,136.2 791.9,135.6 795.2,136.3C798.6,137.1 801.6,137.4 804.8,140.2C808,142.9 812.4,148.3 814.4,152.6C816.5,157 815.4,163.1 817.3,166.1C819.2,169.1 824,169 826,170.9C827.9,172.8 828.5,174.9 828.8,177.6C829.2,180.3 829,183.7 827.9,187.2C826.8,190.7 824.4,195.9 822.1,198.7C819.9,201.6 816,202.6 814.4,204.5C812.8,206.4 814.4,208.8 812.5,210.3C810.6,211.7 805.5,213.1 802.9,213.1C800.4,213.1 799.7,210.4 797.1,210.3C794.6,210.1 791.1,212.2 787.5,212.2C784,212.2 780.5,210.6 776,210.3C771.5,209.9 764.5,211.9 760.7,210.3C756.8,208.7 754.9,206.1 753,200.7C751.1,195.2 750.1,184.8 749.1,177.6C748.2,170.4 745.3,162.3 747.2,157.4Z" class="o" style="stroke-width:2.04"/>
<path d="M759.7,148.8C759.9,147.8 759.7,144.6 760.7,143C761.6,141.4 764.7,139.8 765.5,139.2M765.5,145.9C766.3,145.1 767.5,142.2 770.3,141.1C773,140 779.9,139.5 781.8,139.2" class="l" style="stroke-width:1.44"/>
<path d="M753.9,174.7C755.7,173.8 760.8,170.7 764.5,169C768.2,167.2 770.9,165.1 776,164.2C781.1,163.2 788.8,162.9 795.2,163.2C801.6,163.5 811.2,165.6 814.4,166.1" class="l" style="stroke-width:1.56"/>
<path d="M746.3,190.1C748,189.1 753.8,186.4 756.8,184.3C759.9,182.3 763.2,178.7 764.5,177.6" class="l" style="stroke-width:1.44"/>
<path d="M779.9,196.8C779.9,193.3 779.9,187.2 781.8,183.4C783.7,179.5 787.2,176.3 791.4,173.8C795.5,171.2 802,169.1 806.8,168C811.6,166.9 816.7,166.3 820.2,167.1C823.7,167.9 826.4,170.4 827.9,172.8C829.3,175.2 829.5,177.8 828.8,181.5C828.2,185.1 826.4,191.1 824,194.9C821.6,198.7 818.3,201.8 814.4,204.5C810.6,207.2 805.5,210.3 801,211.2C796.5,212.2 790.7,211.4 787.5,210.3C784.3,209.1 783.1,206.7 781.8,204.5C780.5,202.3 779.9,200.3 779.9,196.8Z" class="o" style="stroke-width:1.92"/>
<ellipse cx="793.3" cy="194" rx="6.4" ry="8.6" class="o" transform="rotate(-25 793.3 194)" style="fill:#555;stroke-width:1.56"/>
<ellipse cx="794.3" cy="194.6" rx="3.8" ry="5.6" class="o" transform="rotate(-25 794.3 194.6)" style="fill:#aaa;stroke-width:0.96"/>
<ellipse cx="808.7" cy="183.6" rx="6.6" ry="8.8" class="o" transform="rotate(-25 808.7 183.6)" style="fill:#555;stroke-width:1.56"/>
<ellipse cx="809.7" cy="184.2" rx="3.8" ry="5.6" class="o" transform="rotate(-25 809.7 184.2)" style="fill:#aaa;stroke-width:0.96"/>
<ellipse cx="820.2" cy="179.5" rx="2.3" ry="3.2" class="o" transform="rotate(-25 820.2 179.5)" style="stroke-width:1.32"/>
<path d="M802.9,211.2C803.2,211.7 803.6,213.9 804.8,214.1C806.1,214.3 809.3,213.3 810.6,212.2C811.9,211.1 812.2,208.2 812.5,207.4" class="l" style="stroke-width:1.44"/>
<path d="M712.1,150.8C712.6,149.6 712.1,149.7 713.7,148.4C715.2,147.1 719.2,143.9 721.5,142.9C723.9,141.8 725.5,141.4 727.9,142.1C730.2,142.8 733.1,144.1 735.7,146.8C738.4,149.6 741,154.1 743.6,158.7C746.3,163.3 749.4,170 751.5,174.4C753.6,178.9 755.2,181.5 756.2,185.5C757.3,189.4 757,194.1 757.8,198.1C758.6,202 760.5,204.9 761,209.1C761.5,213.3 761.5,218.9 761,223.3C760.5,227.8 759.7,232.5 757.8,235.9C756,239.4 752.6,242.2 749.9,243.8C747.3,245.5 744.7,245.9 742.1,245.7C739.4,245.5 736.5,244.2 734.2,242.6C731.8,240.9 730,239.2 727.9,235.9C725.8,232.7 723.5,227.3 721.5,223.3C719.6,219.4 718.1,214.4 716,212.3C713.9,210.2 711.2,212 708.9,210.7C706.7,209.4 704.3,207.6 702.6,204.4C700.9,201.2 699.6,196.8 698.7,191.8C697.8,186.8 697,178.2 697.1,174.4C697.2,170.6 698,170.2 699.5,168.9C700.9,167.6 704.1,167.5 705.8,166.5C707.5,165.6 708.9,165.2 709.7,163.4C710.5,161.6 710.1,157.6 710.5,155.5C710.9,153.4 711.6,152 712.1,150.8Z" class="o" style="stroke-width:2.16"/>
<path d="M721.5,145.4C723.1,147.9 728.4,155.1 731,160.2C733.6,165.3 735.2,171.3 737.3,176C739.4,180.7 741.8,185.7 743.6,188.6C745.5,191.5 746.9,191.3 748.4,193.4C749.8,195.5 751.9,198.6 752.3,201.2C752.7,203.9 751.4,207 750.7,209.1C750.1,211.2 748.8,211.5 748.4,213.9C748,216.2 748.6,219.6 748.4,223.3C748.1,227 748,232.5 746.8,235.9C745.5,239.4 741.8,242.8 740.8,244.1" class="l" style="stroke-width:1.68"/>
<path d="M743.6,188.6 L756.2,185.5" class="l" style="stroke-width:1.44"/>
<path d="M709.7,163.4C710,165.5 710.6,170.8 711.3,176C712,181.3 712.9,188.9 713.7,194.9C714.4,201 715.6,209.4 716,212.3" class="l" style="stroke-width:1.44"/>
<ellipse cx="728.6" cy="198.1" rx="11.6" ry="17.6" class="o" transform="rotate(-20 728.6 198.1)" style="stroke-width:1.92"/>
<path d="M733,183.5 C740,188 743,200 738.5,212 C736,210 734,206 733,200 C732.5,194 732.5,189 733,183.5Z" class="o" style="fill:#e2e2e2;stroke-width:1.32"/>
<path d="M721,187 C717.5,195 720,208 727,213.5" class="l" style="stroke-width:1.20"/>
<ellipse cx="720" cy="163.4" rx="4.9" ry="7.2" class="o" transform="rotate(-20 720 163.4)" style="fill:#707070;stroke-width:1.56"/>
<ellipse cx="720.6" cy="163.8" rx="2.5" ry="4" class="o" transform="rotate(-20 720.6 163.8)" style="fill:#a9a9a9;stroke-width:0.72"/>
<ellipse cx="703.4" cy="177.6" rx="4.7" ry="7.8" class="o" transform="rotate(-20 703.4 177.6)" style="fill:#707070;stroke-width:1.56"/>
<ellipse cx="704" cy="178" rx="2.4" ry="4.3" class="o" transform="rotate(-20 704 178)" style="fill:#a9a9a9;stroke-width:0.72"/>
<ellipse cx="707.4" cy="200.5" rx="4.6" ry="7.3" class="o" transform="rotate(-20 707.4 200.5)" style="fill:#707070;stroke-width:1.56"/>
<ellipse cx="708" cy="200.9" rx="2.3" ry="4" class="o" transform="rotate(-20 708 200.9)" style="fill:#a9a9a9;stroke-width:0.72"/>
<ellipse cx="736.5" cy="232" rx="5.6" ry="6.8" class="o" transform="rotate(-20 736.5 232)" style="fill:#707070;stroke-width:1.56"/>
<ellipse cx="737.1" cy="232.4" rx="2.8" ry="3.7" class="o" transform="rotate(-20 737.1 232.4)" style="fill:#a9a9a9;stroke-width:0.72"/>
<ellipse cx="712.9" cy="168.9" rx="1.8" ry="2.3" class="o" style="stroke-width:1.20"/>
<ellipse cx="746" cy="199.7" rx="2.7" ry="4.2" class="o" transform="rotate(-20 746 199.7)" style="stroke-width:1.44"/>
<path d="M737.5,227.5 L741.5,225 L742,229" class="l" style="stroke-width:1.20"/>
<path d="M857.6,95.5 L903.7,69.6L903.7,69.6C904.8,69.4 908.1,67.9 910.4,68.3C912.7,68.6 915.1,69.4 917.5,71.5C919.9,73.7 923,76.6 924.8,81.1C926.7,85.6 928.5,92.6 928.7,98.4C928.8,104.2 926.8,110.9 925.8,115.7C924.8,120.5 923.9,122.7 922.9,127.2C922,131.7 921.6,139.1 920,142.6C918.4,146.1 916,147.5 913.3,148.3C910.6,149.1 907.5,148.3 903.7,147.4C899.9,146.4 894.1,144.8 890.3,142.6C886.4,140.3 883.5,137.1 880.7,133.9C877.8,130.7 874.3,125.1 873,123.4Z" class="o" style="stroke-width:2.04"/>
<path d="M896,119.9 L925.8,104.2" class="l" style="stroke-width:1.44"/>
<path d="M894.5,121.5 L904.7,145.5" class="l" style="stroke-width:1.44"/>
<path d="M887.4,129.1 L896,142.6" class="l" style="stroke-width:1.32"/>
<path d="M858.6,98.4C859.7,99.2 863.1,101.8 865.3,103.2C867.5,104.7 870.9,106.4 872,107.1M861.5,101.3 L867.2,109" class="l" style="stroke-width:1.20"/>
<g transform="translate(914,134) rotate(16.5)">
<path class="o" d="M0,-7 L27,-7 L27,7 L0,7 A3,7 0 0 1 0,-7Z" style="stroke-width:1.80"/>
<path d="M1,-6 L13,-6 L13,6 L1,6Z" fill="#777" opacity="0.75"/>
<path d="M1,-6 L1.8,6M2.9,-6 L3.7,6M4.8,-6 L5.6,6M6.7,-6 L7.5,6M8.6,-6 L9.4,6M10.5,-6 L11.3,6M12.4,-6 L13.2,6" stroke="#333" stroke-width="0.8" fill="none"/>
<path class="o" style="stroke-width:1.92" d="M25,-9 L31,-13 L41,-12 L46,-3 L44,9 L36,13.5 L27,11 Z"/>
<path class="l" style="stroke-width:1.32" d="M31,-13 L33,-2 L27,11 M33,-2 L46,-3"/>
</g>
<path d="M836.5,77.3C833.9,77.3 831,77.9 828.8,79.2C826.6,80.5 824.8,82.4 823,85C821.3,87.5 819.5,91.4 818.2,94.6C817,97.8 816.4,101.3 815.4,104.2C814.3,107.1 812.5,109.6 811.9,111.9C811.3,114.1 811.1,114.1 811.5,117.6C811.9,121.1 813.1,128.8 814.4,133C815.7,137.1 817.4,139.4 819.2,142.6C821,145.8 822.9,148.8 825,152.2C827,155.5 829.4,159.5 831.7,162.7C833.9,165.9 836.3,168.8 838.4,171.4C840.5,173.9 842.3,176.5 844.2,178.1C846.1,179.7 847.9,180.7 849.9,181C852,181.3 854.7,181 856.7,180C858.6,179.1 859.7,178 861.5,175.2C863.2,172.5 865.5,167.9 867.2,163.7C869,159.5 870.6,154.7 872,150.3C873.5,145.8 875.5,140.7 875.9,136.8C876.2,133 874.7,129.8 873.9,127.2C873.1,124.7 872.8,125 871.1,121.5C869.3,117.9 865.6,110.4 863.4,106.1C861.1,101.8 859.5,98.7 857.6,95.5C855.7,92.3 854.1,89.6 851.9,86.9C849.6,84.2 846.7,80.8 844.2,79.2C841.6,77.6 839,77.3 836.5,77.3Z" class="o" style="stroke-width:2.16"/>
<path d="M841.3,80.2C842.6,82.2 846.6,88 849,92.6C851.4,97.3 853.5,102.9 855.7,108C857.9,113.1 860.8,118.6 862.4,123.4C864,128.2 865.1,131.4 865.3,136.8C865.5,142.3 864.7,149.9 863.4,156C862.1,162.1 859.2,169.3 857.6,173.3C856,177.3 854.4,178.9 853.8,180" class="l" style="stroke-width:1.56"/>
<path d="M815.4,104.6 L818.8,108 L815,117.6" class="l" style="stroke-width:1.32"/>
<ellipse cx="831.7" cy="97.5" rx="4.8" ry="7" class="o" transform="rotate(-20 831.7 97.5)" style="stroke-width:1.68"/>
<ellipse cx="847.1" cy="168.5" rx="4.8" ry="7.4" class="o" transform="rotate(-20 847.1 168.5)" style="stroke-width:1.68"/>
<ellipse cx="835.5" cy="135.6" rx="15" ry="20.5" class="o" transform="rotate(-20 835.5 135.6)" style="stroke-width:1.92"/>
<ellipse cx="834" cy="136.6" rx="11.8" ry="17" class="o" transform="rotate(-20 834 136.6)" style="stroke-width:1.68"/>
<ellipse cx="833.6" cy="137" rx="10" ry="15" class="l" transform="rotate(-20 833.6 137)" style="stroke-width:1.32"/>
<path d="M930.6,79.2C931.9,78.4 935.7,75.5 938.3,74.4C940.8,73.3 943.6,71.7 946,72.5C948.4,73.3 951.2,76.5 952.7,79.2C954.1,81.9 954.6,85.1 954.6,88.8C954.6,92.5 954.1,97.1 952.7,101.3C951.2,105.5 947.9,110.7 946,113.8C944,116.8 942,118.6 941.2,119.5" class="l" style="stroke-width:1.80"/>
<path d="M939.2,121.8 L942.5,114.3 L946.3,117.6Z" class="k" />
<path d="M769.3,75.8 L775.4,71.3 L781,72.4 L785.9,77.3 L787.1,84.9 L785.2,92.4 L780.6,97.3 L775.4,98.5 L770.8,97 L764.8,90.2 L763.9,82.6Z" class="o" style="stroke-width:2.04;stroke-linejoin:round"/>
<path d="M769.3,75.8 L774.2,81.9 L772.7,90.2 L770.8,97M764.2,86.8 L772.7,90.2M774.2,81.9 L777.6,76.2" class="l" style="stroke-width:1.44"/>
<ellipse cx="779.6" cy="85.8" rx="6.4" ry="11.6" class="o" transform="rotate(12 779.6 85.8)" style="stroke-width:1.68"/>
<ellipse cx="780" cy="86" rx="4.5" ry="8.3" class="o" transform="rotate(12 780 86)" style="fill:#7d7d7d;stroke-width:1.44"/>
<g transform="translate(803,94) rotate(0)">
<path class="o" style="stroke-width:1.92" d="M0,-12.8 C-7,-12.8 -11.6,-7 -11.6,0.5 C-11.6,8 -7,13 -1,13 L2.5,13 L2.5,-12.8 Z"/>
<path class="o" style="stroke-width:1.92" d="M9.6,-7.5 C8,-11 5.5,-12.8 2.5,-12.8 C-3,-12.8 -7.4,-7 -7.4,0.3 C-7.4,7.6 -3,13 2.5,13 C6,13 8.6,10.5 10,7 L5.2,4.8 C4.6,6 3.8,6.8 2.7,6.8 C0.6,6.8 -1.2,3.8 -1.2,0.2 C-1.2,-3.4 0.6,-6.4 2.7,-6.4 C3.6,-6.4 4.4,-5.8 5,-4.8 L7.5,-2 L11,-2.6 Z"/>
<path class="l" style="stroke-width:1.32" d="M5,-4.8 C6.6,-3 6.8,1.5 5.2,4.8"/>
</g>
<g transform="translate(907.5,50.8) rotate(0)">
<path class="o" style="stroke-width:1.92" d="M0,-12.8 C-7,-12.8 -11.6,-7 -11.6,0.5 C-11.6,8 -7,13 -1,13 L2.5,13 L2.5,-12.8 Z"/>
<path class="o" style="stroke-width:1.92" d="M9.6,-7.5 C8,-11 5.5,-12.8 2.5,-12.8 C-3,-12.8 -7.4,-7 -7.4,0.3 C-7.4,7.6 -3,13 2.5,13 C6,13 8.6,10.5 10,7 L5.2,4.8 C4.6,6 3.8,6.8 2.7,6.8 C0.6,6.8 -1.2,3.8 -1.2,0.2 C-1.2,-3.4 0.6,-6.4 2.7,-6.4 C3.6,-6.4 4.4,-5.8 5,-4.8 L7.5,-2 L11,-2.6 Z"/>
<path class="l" style="stroke-width:1.32" d="M5,-4.8 C6.6,-3 6.8,1.5 5.2,4.8"/>
</g>
<g transform="translate(930.7,38.5) rotate(-15)">
<path class="o" style="fill:#ececec;stroke-width:1.92" d="M-6,-13 L7,-13 A5,13 0 0 1 7,13 L-6,13Z"/>
<path class="l" style="stroke-width:1.44" d="M4,-8 L11,-8 M5,-1 L12,-1 M4,7 L11,7 M4,-12 L4,12"/>
<ellipse cx="-5" rx="7.5" ry="13" class="o" style="fill:#ddd;stroke-width:1.92"/>
<ellipse cx="-4.4" rx="4.6" ry="8.4" class="o" style="fill:#666;stroke-width:1.44"/>
<ellipse cx="-3.8" rx="2.8" ry="5.6" class="o" style="fill:#b5b5b5;stroke-width:0.84"/>
</g>
<g transform="translate(892.5,12.3) rotate(31.5)">
<path class="o" style="stroke-width:1.38" d="M24.8,-1.3 L2.5,-1.9 A3,3 0 1 0 2.5,1.9 L24.8,1.3 Q27,0 24.8,-1.3 Z"/>
<circle r="1.1" class="o" style="stroke-width:1.20"/>
<path class="l" style="stroke-width:0.84" d="M1.8,0 L24.8,0"/>
</g>
</g>
<g id="right">
<g transform="translate(479.7,565.2) rotate(-30.6)">
<path class="o" style="stroke-width:2.04" d="M0,-17.5 L162,-17.5 L162,17.5 L0,17.5 A8.5,17.5 0 0 1 0,-17.5 Z"/>
<path class="o" style="stroke-width:2.04" d="M166,-19.5 L262,-19.5 C272,-19.5 277,-8 277,2 C277,12 272,19.5 264,19.5 L166,19.5 Z"/>
<path class="o" style="stroke-width:1.80" d="M160,-18 L168,-19.5 A5.5,19.5 0 0 1 168,19.5 L160,18 A5.5,18 0 0 0 160,-18Z"/>
<path class="l" style="stroke-width:1.32" d="M164,-18.8 A5.5,18.8 0 0 1 164,18.8"/>
<clipPath id="thr"><path d="M0,-17.5 L86,-17.5 A8.5,17.5 0 0 1 86,17.5 L0,17.5 A8.5,17.5 0 0 1 0,-17.5 Z"/></clipPath>
<g clip-path="url(#thr)">
<rect x="-2" y="-18" width="100" height="36" fill="#a4a4a4"/>
<path d="M-8,-17.5 A8.5,17.5 0 0 1 -8,17.5M-5.9,-17.5 A8.5,17.5 0 0 1 -5.9,17.5M-3.8,-17.5 A8.5,17.5 0 0 1 -3.8,17.5M-1.7,-17.5 A8.5,17.5 0 0 1 -1.7,17.5M0.4,-17.5 A8.5,17.5 0 0 1 0.4,17.5M2.5,-17.5 A8.5,17.5 0 0 1 2.5,17.5M4.6,-17.5 A8.5,17.5 0 0 1 4.6,17.5M6.7,-17.5 A8.5,17.5 0 0 1 6.7,17.5M8.8,-17.5 A8.5,17.5 0 0 1 8.8,17.5M10.9,-17.5 A8.5,17.5 0 0 1 10.9,17.5M13,-17.5 A8.5,17.5 0 0 1 13,17.5M15.1,-17.5 A8.5,17.5 0 0 1 15.1,17.5M17.2,-17.5 A8.5,17.5 0 0 1 17.2,17.5M19.3,-17.5 A8.5,17.5 0 0 1 19.3,17.5M21.4,-17.5 A8.5,17.5 0 0 1 21.4,17.5M23.5,-17.5 A8.5,17.5 0 0 1 23.5,17.5M25.6,-17.5 A8.5,17.5 0 0 1 25.6,17.5M27.7,-17.5 A8.5,17.5 0 0 1 27.7,17.5M29.8,-17.5 A8.5,17.5 0 0 1 29.8,17.5M31.9,-17.5 A8.5,17.5 0 0 1 31.9,17.5M34,-17.5 A8.5,17.5 0 0 1 34,17.5M36.1,-17.5 A8.5,17.5 0 0 1 36.1,17.5M38.2,-17.5 A8.5,17.5 0 0 1 38.2,17.5M40.3,-17.5 A8.5,17.5 0 0 1 40.3,17.5M42.4,-17.5 A8.5,17.5 0 0 1 42.4,17.5M44.5,-17.5 A8.5,17.5 0 0 1 44.5,17.5M46.6,-17.5 A8.5,17.5 0 0 1 46.6,17.5M48.7,-17.5 A8.5,17.5 0 0 1 48.7,17.5M50.8,-17.5 A8.5,17.5 0 0 1 50.8,17.5M52.9,-17.5 A8.5,17.5 0 0 1 52.9,17.5M55,-17.5 A8.5,17.5 0 0 1 55,17.5M57.1,-17.5 A8.5,17.5 0 0 1 57.1,17.5M59.2,-17.5 A8.5,17.5 0 0 1 59.2,17.5M61.3,-17.5 A8.5,17.5 0 0 1 61.3,17.5M63.4,-17.5 A8.5,17.5 0 0 1 63.4,17.5M65.5,-17.5 A8.5,17.5 0 0 1 65.5,17.5M67.6,-17.5 A8.5,17.5 0 0 1 67.6,17.5M69.7,-17.5 A8.5,17.5 0 0 1 69.7,17.5M71.8,-17.5 A8.5,17.5 0 0 1 71.8,17.5M73.9,-17.5 A8.5,17.5 0 0 1 73.9,17.5M76,-17.5 A8.5,17.5 0 0 1 76,17.5M78.1,-17.5 A8.5,17.5 0 0 1 78.1,17.5M80.2,-17.5 A8.5,17.5 0 0 1 80.2,17.5M82.3,-17.5 A8.5,17.5 0 0 1 82.3,17.5M84.4,-17.5 A8.5,17.5 0 0 1 84.4,17.5M86.5,-17.5 A8.5,17.5 0 0 1 86.5,17.5M88.6,-17.5 A8.5,17.5 0 0 1 88.6,17.5M90.7,-17.5 A8.5,17.5 0 0 1 90.7,17.5M92.8,-17.5 A8.5,17.5 0 0 1 92.8,17.5M94.9,-17.5 A8.5,17.5 0 0 1 94.9,17.5" stroke="#1c1c1c" stroke-width="0.85" fill="none"/>
<path d="M0,-7 L92,-7" stroke="#f0f0f0" stroke-width="2.8" fill="none" opacity="0.9"/>
<path d="M0,14.5 L92,14.5" stroke="#222" stroke-width="5" fill="none" opacity="0.35"/>
<path d="M0,-15.5 L92,-15.5" stroke="#222" stroke-width="3" fill="none" opacity="0.3"/>
<path d="M0,5 L92,5" stroke="#ccc" stroke-width="3" stroke-dasharray="1.6 2.6" fill="none" opacity="0.6"/>
<path d="M0,11 L92,11" stroke="#bbb" stroke-width="2.4" stroke-dasharray="1.2 3" fill="none" opacity="0.5"/>
</g>
<path class="l" style="stroke-width:1.92" d="M0,-17.5 L86,-17.5 M0,17.5 L86,17.5 M86,-17.5 A8.5,17.5 0 0 1 86,17.5"/>
<ellipse rx="8.5" ry="17.5" class="o" style="stroke-width:2.04"/>
<ellipse cx="0.6" rx="6.4" ry="13.6" class="o" style="stroke-width:1.68"/>
<ellipse cx="181.5" cy="-12.4" rx="4.2" ry="2.6" class="o" style="fill:#888;stroke-width:1.44"/>
<ellipse cx="262" cy="-12.5" rx="1.7" ry="2.6" class="o" style="stroke-width:1.20"/>
<ellipse cx="268" cy="-4.5" rx="1.7" ry="2.6" class="o" style="stroke-width:1.20"/>
<ellipse cx="270.5" cy="5" rx="1.7" ry="2.6" class="o" style="stroke-width:1.20"/>
</g>
<path class="o" style="stroke-width:1.80" d="M650.5,497 L650.5,508 L651.5,509.5 L651.5,525 A10,3.2 0 0 0 671.5,525 L671.5,509.5 L672.5,508 L672.5,497 Z"/>
<path d="M652,510 L671,510 L671,525.5 A9.5,3 0 0 1 652,525.5Z" fill="#6e6e6e"/>
<path d="M652,510.5 L671,510.5M652,512.5 L671,512.5M652,514.5 L671,514.5M652,516.5 L671,516.5M652,518.5 L671,518.5M652,520.5 L671,520.5M652,522.5 L671,522.5M652,524.5 L671,524.5M652,526.5 L671,526.5" stroke="#1a1a1a" stroke-width="0.9" fill="none"/>
<path d="M658,510 L658,527" stroke="#ddd" stroke-width="2" opacity="0.55" fill="none"/>
<path class="l" style="stroke-width:1.68" d="M651.5,509.5 L651.5,525 A10,3.2 0 0 0 671.5,525 L671.5,509.5"/>
<path d="M644.7,490.8C643.1,492.9 646.2,493.5 647.6,494.7C649.1,495.9 650.5,497.5 653.4,497.9C656.3,498.4 661.4,498.1 664.9,497.5C668.4,497 671.8,496.3 674.5,494.7C677.2,493.1 679.6,491 681.2,487.9C682.8,484.9 683.9,479 684.1,476.4C684.3,473.9 686.7,471.6 682.2,472.6C677.7,473.5 663.5,479.1 657.2,482.2C651,485.2 646.3,488.7 644.7,490.8Z" class="o" style="fill:url(#dots2);stroke-width:1.80"/>
<path d="M654.9,476.8 L705.2,448.4 L707.5,457.2 L658.4,484.5Z" class="o" style="fill:url(#dots2);stroke-width:1.68"/>
<path d="M656.3,480.3 L706.4,452.4" class="l" style="stroke:#555;stroke-width:1.20;stroke-dasharray:1 1.5"/>
<path d="M654.9,476.8C654.3,475.1 651.9,470.7 651.1,466.8C650.2,462.9 649.5,457.9 649.9,453.4C650.3,448.9 652,443.9 653.4,439.9C654.8,435.9 656.4,432 658.2,429.4C659.9,426.7 662.3,425.1 663.9,424.2C665.5,423.2 666.5,423.3 667.8,423.6C669.1,423.9 670.5,425.4 671.6,426.1C672.7,426.8 673.1,426.2 674.5,427.6C675.9,429 677.1,432.8 680.3,434.6C683.5,436.3 689.5,435.7 693.7,438C697.9,440.3 703.3,446.7 705.2,448.4Z" class="o" style="stroke-width:1.80"/>
<ellipse cx="664.7" cy="432.2" rx="2" ry="2.8" class="o" transform="rotate(-30 664.7 432.2)" style="stroke-width:1.32"/>
<path d="M659.1,428.4C658.5,429.7 656.6,433.2 655.3,436.1C654,439 652,442.8 651.1,445.7C650.2,448.6 649.9,449.9 649.9,453.4C650,456.9 650.4,462.3 651.5,466.8C652.5,471.3 655.5,478 656.3,480.3" class="l" style="stroke-width:1.32"/>
<path d="M629.4,453.4C631.1,453 636.9,452.4 639.9,451.1C643,449.8 645.8,447.2 647.6,445.7C649.5,444.2 650.5,442.5 651.1,441.9" class="l" style="stroke-width:1.20"/>
<path d="M671.6,426.1C672.1,426.8 673.5,429.2 674.5,430.3C675.5,431.4 676.9,432.3 677.4,432.6" class="l" style="stroke-width:1.32"/>
<g transform="translate(629.4,421.6)">
<path class="o" style="stroke-width:1.56" d="M-2.8,1.2 C-3,-1.6 3,-1.6 2.8,1.2 L3.8,6.5 L-3.8,6.5 Z"/>
<path class="l" style="stroke-width:1.08" d="M-3,2.5 L3,2.5"/>
<path class="o" style="stroke-width:1.68" d="M-5.6,6.8 L5.6,6.8 L7.4,10 L6.6,13 L4.4,14.6 L-4.4,14.6 L-6.6,13 L-7.4,10 Z"/>
<path class="l" style="stroke-width:1.08" d="M-2.6,7 L-3,14.4 M2.6,7 L3,14.4"/>
<path class="o" style="fill:#8d8d8d;stroke-width:1.56" d="M-4.4,14.6 L4.4,14.6 L3.8,22.6 C2,24.4 -2,24.4 -3.8,22.6 Z"/>
<path class="l" style="stroke-width:1.08" d="M-4.2,16.8 L4.2,16.8 M-4.1,19 L4.1,19 M-3.9,21.2 L3.9,21.2"/>
</g>
<path d="M641.4,421.8 L643.6,418.2 L648.6,417.4 L652.2,420.4 L652.6,425.6 L649.6,428.8 L644.8,428.8 L641.6,425.6Z" class="o" style="fill:#e6e6e6;stroke-width:1.68;stroke-linejoin:round"/>
<ellipse cx="647.6" cy="423" rx="2.8" ry="3.1" class="o" style="fill:#7a7a7a;stroke-width:1.20"/>
<path d="M643.6,418.2 L645,422.2 L644.8,428.8" class="l" style="stroke-width:1.08"/>
<path d="M712.8,458.2 L720.5,462.4 L719,466 L711.6,461.2Z" class="o" style="fill:#777;stroke-width:1.32"/>
<ellipse cx="722.6" cy="465.8" rx="3.6" ry="4.8" class="o" transform="rotate(-30 722.6 465.8)" style="stroke-width:1.68"/>
<path d="M721.2,461.6 L724,470" class="l" style="stroke-width:1.20"/>
<g transform="translate(778.5,394) rotate(-30)"><ellipse rx="9" ry="14.6" fill="none" stroke="#0c0c0c" stroke-width="3.8"/><ellipse rx="9" ry="14.6" fill="none" stroke="#f6f6f6" stroke-width="1.5999999999999996"/></g>
<g transform="translate(772.1,397.6) rotate(-30)"><ellipse rx="9" ry="14.6" fill="none" stroke="#0c0c0c" stroke-width="3.8"/><ellipse rx="9" ry="14.6" fill="none" stroke="#f6f6f6" stroke-width="1.5999999999999996"/></g>
<g transform="translate(765.8,401.3) rotate(-30)"><ellipse rx="9" ry="14.6" fill="none" stroke="#0c0c0c" stroke-width="3.8"/><ellipse rx="9" ry="14.6" fill="none" stroke="#f6f6f6" stroke-width="1.5999999999999996"/></g>
<g transform="translate(759.4,405) rotate(-30)"><ellipse rx="9" ry="14.6" fill="none" stroke="#0c0c0c" stroke-width="3.8"/><ellipse rx="9" ry="14.6" fill="none" stroke="#f6f6f6" stroke-width="1.5999999999999996"/></g>
<g transform="translate(753,408.6) rotate(-30)"><ellipse cx="4" rx="5.4" ry="9.1" fill="none" stroke="#0c0c0c" stroke-width="2.6"/><ellipse cx="4" rx="5.4" ry="9.1" fill="none" stroke="#f6f6f6" stroke-width="0.9"/><ellipse cx="1.5" rx="5.4" ry="9.1" fill="none" stroke="#0c0c0c" stroke-width="2.6"/><ellipse cx="1.5" rx="5.4" ry="9.1" fill="none" stroke="#f6f6f6" stroke-width="0.9"/><ellipse rx="9" ry="14.6" fill="none" stroke="#0c0c0c" stroke-width="3.8"/><ellipse rx="9" ry="14.6" fill="none" stroke="#f6f6f6" stroke-width="1.5999999999999996"/></g>
<g transform="translate(733,416.8) rotate(-30)">
<path class="o" style="fill:#f9f9f9;stroke-width:1.92" d="M0,-16.2 L6,-16.2 A9.2,16.2 0 0 1 6,16.2 L0,16.2 Z"/>
<ellipse cx="0" cy="0" rx="9.2" ry="16.2" class="o" style="fill:#f9f9f9;stroke-width:1.92"/>
<ellipse cx="0.4" cy="0" rx="1.6" ry="2.6" fill="#f9f9f9" stroke="#0c0c0c" stroke-width="1.1"/>
</g>
<g transform="translate(733,416.8) rotate(-30)"><ellipse cx="0.4" rx="6" ry="10.6" class="l" style="stroke-width:1.20"/></g>
<g transform="translate(808.5,372.2) rotate(-30)">
<path class="o" style="fill:#f9f9f9;stroke-width:1.92" d="M0,-16.8 L2.5,-16.8 A8.6,16.8 0 0 1 2.5,16.8 L0,16.8 Z"/>
<ellipse cx="0" cy="0" rx="8.6" ry="16.8" class="o" style="fill:#f9f9f9;stroke-width:1.92"/>
</g>
<g transform="translate(794,379.8) rotate(-30)">
<path class="o" style="fill:url(#gcylA)" d="M0,-9.4 L12.5,-9.4 A5,9.4 0 0 1 12.5,9.4 L0,9.4 A5,9.4 0 0 1 0,-9.4Z"/>
<ellipse rx="5" ry="9.4" class="o"/>
</g>
<g transform="translate(830.5,360.5) rotate(-30)">
<path class="o" style="fill:#8d8d8d;stroke-width:1.92" d="M0,-18 L17,-18 A10,18 0 0 1 17,18 L0,18 Z"/>
<clipPath id="pl"><path d="M0,-18 L17,-18 A10,18 0 0 1 17,18 L0,18 Z"/></clipPath>
<g clip-path="url(#pl)"><path d="M-6,-18 A10,18 0 0 1 -6,18M-4.1,-18 A10,18 0 0 1 -4.1,18M-2.2,-18 A10,18 0 0 1 -2.2,18M-0.3,-18 A10,18 0 0 1 -0.3,18M1.6,-18 A10,18 0 0 1 1.6,18M3.5,-18 A10,18 0 0 1 3.5,18M5.4,-18 A10,18 0 0 1 5.4,18M7.3,-18 A10,18 0 0 1 7.3,18M9.2,-18 A10,18 0 0 1 9.2,18M11.1,-18 A10,18 0 0 1 11.1,18M13,-18 A10,18 0 0 1 13,18M14.9,-18 A10,18 0 0 1 14.9,18M16.8,-18 A10,18 0 0 1 16.8,18M18.7,-18 A10,18 0 0 1 18.7,18M20.6,-18 A10,18 0 0 1 20.6,18M22.5,-18 A10,18 0 0 1 22.5,18M24.4,-18 A10,18 0 0 1 24.4,18M26.3,-18 A10,18 0 0 1 26.3,18M28.2,-18 A10,18 0 0 1 28.2,18" stroke="#151515" stroke-width="0.95" fill="none"/><path d="M0,-9 L28,-9" stroke="#ddd" stroke-width="2" opacity="0.6" fill="none"/></g>
<path class="o" style="stroke-width:1.44" d="M19,2 L27,2 L27,7 L19,7Z"/>
<ellipse rx="10" ry="18" class="o" style="stroke-width:2.04"/>
<ellipse cx="0.8" rx="6.4" ry="11.6" class="o" style="stroke-width:1.56"/>
<path class="l" style="stroke-width:1.20" d="M3,-9 A5,10 0 0 1 3,9"/>
</g>
<g transform="translate(899.3,371.6) rotate(-163.9)">
<path class="o" style="stroke-width:1.38" d="M35.5,-1.4 L3.1,-2 A3.6,3.6 0 1 0 3.1,2 L35.5,1.4 Q37.7,0 35.5,-1.4 Z"/>
<circle r="1.4" class="o" style="stroke-width:1.20"/>
<path class="l" style="stroke-width:0.84" d="M2.2,0 L35.5,0"/>
</g>
<path d="M638.2,552.1C638.7,548.4 639.6,543.7 641.9,540.9C644.2,538.2 648.1,536.5 651.8,535.5C655.5,534.4 660.3,534.2 664.2,534.7C668.1,535.2 672.5,536.4 675.4,538.5C678.3,540.5 680.6,544.3 681.6,547.1C682.5,550 680.3,554.2 681.1,555.8C681.9,557.5 683.4,554.5 686.6,557.1C689.7,559.7 698,567.3 700.2,571.5C702.3,575.6 702.1,578.5 699.5,581.9C696.8,585.3 688.1,590.9 684.1,591.8C680.1,592.7 678.3,588.9 675.4,587.3C672.5,585.8 669.8,583.6 666.7,582.4C663.6,581.1 660.3,581.2 656.8,579.9C653.3,578.6 648.6,577.2 645.6,574.4C642.6,571.7 640.1,567 638.9,563.3C637.7,559.6 637.7,555.8 638.2,552.1Z" class="o" style="stroke-width:1.92"/>
<ellipse cx="660.5" cy="547.6" rx="12.6" ry="7.4" class="o" style="stroke-width:1.68"/>
<ellipse cx="660.5" cy="548.4" rx="10.6" ry="5.8" class="l" style="stroke-width:1.20"/>
<path d="M638.9,560.8C640.2,562 643.5,566.5 646.8,568.2C650.2,570 655.9,571.2 659.3,571.5C662.6,571.8 665.9,570.2 667.2,570" class="l" style="stroke-width:1.32"/>
<path d="M681.1,555.8C679.7,556.9 675.2,560.5 672.9,562C670.6,563.6 668.4,562.9 667.2,565C666,567.1 665.5,571.5 665.5,574.4C665.5,577.3 666.9,581.1 667.2,582.4" class="l" style="stroke-width:1.56"/>
<path d="M667.2,565C669.2,566.6 676.3,572 679.1,574.4C681.9,576.8 683.2,576.6 684.1,579.4C684.9,582.2 684.1,589.3 684.1,591.3M684.1,579.4C685.5,578.6 690.1,575.8 692.8,574.4C695.4,573.1 699,572 700.2,571.5" class="l" style="stroke-width:1.44"/>
<g transform="translate(661.2,598.8)">
<path class="o" style="fill:#f1f1f1;stroke-width:2.16" d="M-17.3,0 L-16.2,11 L-12,15.5 L-12,19 L-6.5,20.8 L-6.5,16.5 L-1.5,17.2 L-1.5,21.3 L4.5,21 L4.5,17 L9.5,16 L9.5,19.6 L14,17 L14,13 L16.6,10 L17.3,0 A17.3,9.4 0 0 0 -17.3,0Z"/>
<path class="l" style="stroke-width:1.32" d="M-12,7.6 L-12,15.5 M-9,8.6 L-9,13.5 M9.5,8.8 L9.5,16 M12,7.8 L12,13 M-6.5,16.5 L-6.5,10.5 M4.5,17 L4.5,10.5"/>
<ellipse rx="17.3" ry="9.4" class="o" style="fill:#f4f4f4;stroke-width:2.04"/>
<ellipse cx="0" cy="0.6" rx="10.4" ry="5.8" class="o" style="fill:#4a4a4a;stroke-width:1.44"/>
<ellipse cx="0" cy="1.6" rx="6" ry="3" fill="#8a8a8a"/>
<ellipse cx="0.4" cy="2.6" rx="2" ry="1.3" fill="#f4f4f4"/>
</g>
<g transform="translate(717.4,630.5) rotate(-155.4)">
<path class="o" style="stroke-width:1.38" d="M30.5,-1.4 L3.1,-2 A3.6,3.6 0 1 0 3.1,2 L30.5,1.4 Q32.7,0 30.5,-1.4 Z"/>
<circle r="1.4" class="o" style="stroke-width:1.20"/>
<path class="l" style="stroke-width:0.84" d="M2.2,0 L30.5,0"/>
</g>
<path d="M468.5,525.5C466.9,526.8 461.5,530.1 458.6,533C455.7,535.9 453.2,538.6 451.2,542.9C449.1,547.2 446.4,554.5 446.2,559C446,563.6 447.7,567.6 449.9,570.2C452.2,572.8 458.2,573.7 459.9,574.4" class="l" style="stroke-width:1.80"/>
<path d="M466.8,575.4 L459.4,571.4 L460.8,578.9Z" class="k" />
</g>
<g class="lb">
<text x="31.2" y="296.8">18</text>
<text x="37.7" y="319.7">20</text>
<text x="46.9" y="342.8">22</text>
<text x="53.0" y="365.7">23</text>
<text x="63.9" y="388.5">24</text>
<text x="49.3" y="678.0">25</text>
<text x="298.2" y="561.3">28</text>
<text x="298.2" y="583.1">30</text>
<text x="298.2" y="608.7">31</text>
<text x="298.2" y="630.3">32</text>
<text x="298.2" y="653.3">34</text>
<text x="384.6" y="537.2">27</text>
<text x="433.7" y="190.7">1</text>
<text x="517.6" y="130.6">2</text>
<text x="499.5" y="153.7">3</text>
<text x="485.7" y="176.6">4</text>
<text x="465.7" y="199.3">5</text>
<text x="450.7" y="221.8">6</text>
<text x="436.3" y="246.3">7</text>
<text x="416.2" y="269.0">8</text>
<text x="398.0" y="293.0">9</text>
<text x="368.7" y="328.3">10</text>
<text x="350.7" y="351.9">11</text>
<text x="331.3" y="375.6">12</text>
<text x="312.5" y="398.8">14</text>
<text x="293.5" y="421.5">16</text>
<text x="665.3" y="343.5">13</text>
<text x="665.3" y="366.6">15</text>
<text x="665.3" y="389.4">17</text>
<text x="572.6" y="413.6">26</text>
<text x="572.6" y="437.2">19</text>
<text x="740.1" y="504.2">21</text>
<text x="740.1" y="526.6">37</text>
<text x="736.4" y="550.1">29</text>
<text x="580.7" y="625.3">36</text>
<text x="580.7" y="650.1">35</text>
<text x="580.7" y="673.0">33</text>
<text x="820.7" y="456.4">39</text>
<text x="798.5" y="479.5">38</text>
<text x="772.1" y="309.2">40</text>
<text x="787.5" y="286.3">41</text>
<text x="855.0" y="263.3">42</text>
<text x="872.6" y="239.2">43</text>
<text x="715.2" y="92.7">44</text>
<text x="742.2" y="69.0">45</text>
<text x="777.9" y="44.7">46</text>
<text x="810.9" y="21.7">47</text>
</g>
<g id="wm" style="mix-blend-mode:darken">
<ellipse cx="483.8" cy="364" rx="229.6" ry="140.7" fill="none" stroke="#b1b1b1" stroke-width="7.8"/>
<ellipse cx="483.8" cy="364" rx="219.5" ry="131.3" fill="none" stroke="#b7b7b7" stroke-width="2.1"/>
<path fill="#b7b7b7" fill-rule="evenodd" d="M280.8,348.9 L286.6,347.2 L288.2,340.6 L290.7,346.4 L296.5,344.7 L303.1,342.3 L308.9,338.1 L311.4,331.5 L318.0,328.2 L322.2,327.4 L323.0,320.7 L326.3,324.9 L327.9,319.1 L332.1,324.0 L339.5,325.7 L347.8,322.4 L356.1,324.0 L362.7,328.2 L369.3,334.0 L377.6,336.5 L385.9,337.3 L394.2,340.6 L400.8,346.4 L404.1,353.0 L405.8,361.3 L409.1,367.9 L405.8,371.2 L400.8,369.6 L397.5,374.5 L390.9,377.8 L385.9,382.8 L376.0,377.8 L369.3,382.8 L362.7,387.8 L359.4,391.1 L347.8,390.3 L341.2,382.8 L336.2,377.8 L326.3,374.5 L319.7,370.4 L313.0,368.7 L308.1,363.8 L299.8,362.9 L291.5,361.3 L286.6,356.3 L282.4,353.0Z M294.8,348.9 L303.1,345.6 L309.7,342.3 L313.9,336.5 L319.7,332.3 L324.6,331.5 L327.1,334.0 L323.0,337.3 L318.0,340.6 L313.0,346.4 L306.4,350.5 L299.8,352.2 L294.8,351.4Z M319.7,348.0 L326.3,343.1 L336.2,338.1 L346.2,336.5 L356.1,338.9 L366.0,342.3 L376.0,345.6 L385.9,348.0 L392.5,353.0 L395.8,359.6 L392.5,366.3 L385.9,364.6 L379.3,359.6 L372.6,361.3 L366.0,364.6 L359.4,362.9 L352.8,359.6 L344.5,358.0 L336.2,354.7 L327.9,353.0 L321.3,352.2Z M324.6,359.6 L336.2,359.6 L346.2,362.9 L356.1,366.3 L362.7,369.6 L369.3,371.2 L372.6,374.5 L362.7,376.2 L356.1,372.9 L347.8,371.2 L339.5,369.6 L331.3,366.3 L325.5,362.9Z"/>
<path fill="#b9b9b9" d="M318.0,356.3 L326.3,355.5 L327.1,358.8 L319.7,359.6Z M308.9,357.6 L316.4,357.2 L317.2,360.0 L310.6,360.6Z M329.6,357.6 L336.2,358.3 L335.9,361.3 L329.9,360.6Z M352.8,354.3 L362.7,355.0 L362.1,358.0 L353.6,357.3Z M366.9,357.6 L376.0,358.3 L375.3,360.6 L367.4,360.3Z M379.3,344.7 L389.2,348.4 L387.9,351.7 L380.1,348.4Z M339.5,344.7 L347.8,343.4 L348.8,346.4 L340.9,347.4Z M327.9,329.8 L331.6,328.2 L332.6,332.3 L328.9,333.1Z M347.8,377.8 L352.8,376.2 L354.4,382.8 L351.1,384.5Z"/>
<filter id="ol" x="-5%" y="-20%" width="110%" height="140%" color-interpolation-filters="sRGB"><feMorphology in="SourceAlpha" operator="dilate" radius="4.6" result="a"/><feMorphology in="SourceAlpha" operator="dilate" radius="3.1" result="b"/><feComposite in="a" in2="b" operator="out" result="ring"/><feFlood flood-color="#b0b0b0"/><feComposite in2="ring" operator="in"/></filter>
<filter id="ol2" x="-5%" y="-20%" width="110%" height="140%" color-interpolation-filters="sRGB"><feMorphology in="SourceAlpha" operator="dilate" radius="2.7" result="a"/><feMorphology in="SourceAlpha" operator="dilate" radius="1.2" result="b"/><feComposite in="a" in2="b" operator="out" result="ring"/><feFlood flood-color="#adadad"/><feComposite in2="ring" operator="in"/></filter>
<g filter="url(#ol)" font-family="'Liberation Sans',sans-serif" font-size="159.7" text-anchor="middle">
<text transform="translate(0,393.7) scale(0.42,1)" x="1050.0 1170.2 1277.4 1400.7" fill="#000">АСТА</text>
</g>
<g filter="url(#ol2)" font-family="'Liberation Sans',sans-serif" font-weight="bold" font-style="italic" font-size="23.5">
<text x="442.6" y="424.7" textLength="216" lengthAdjust="spacingAndGlyphs" fill="#000">АССОЦИАЦИЯ</text>
</g>
<circle cx="407.4" cy="410" r="19.4" fill="none" stroke="#b4b4b4" stroke-width="2"/>
<circle cx="355.5" cy="412" r="19.4" fill="none" stroke="#b4b4b4" stroke-width="2"/>
<path fill="#b2b2b2" d="M401.8,411 L412.8,411 A5.5,4.6 0 0 1 401.8,411Z M394.4,415.5 L397.5,411.9 L401.2,414.2 L400.6,418.6 L396.4,419.7Z M420.5,415.5 L417.4,411.9 L413.7,414.2 L414.3,418.6 L418.5,419.7Z M404.6,418.2 L410.4,418.2 L411,421.5 L409.6,424.7 L405.4,424.7 L404,421.5Z"/>
<path fill="none" stroke="#c2c2c2" stroke-width="1.1" d="M398,409.5 L400.5,406.8 L414.5,406.8 L417,409.5 M400.8,418.4 L404.6,419.6 M414.2,418.4 L410.4,419.6"/>
</g>

</svg>
<p class="cap">Рис. 59.  Детали продольной рулевой тяги и клапана управления ГУР, сошка руля</p>
</body></html>
